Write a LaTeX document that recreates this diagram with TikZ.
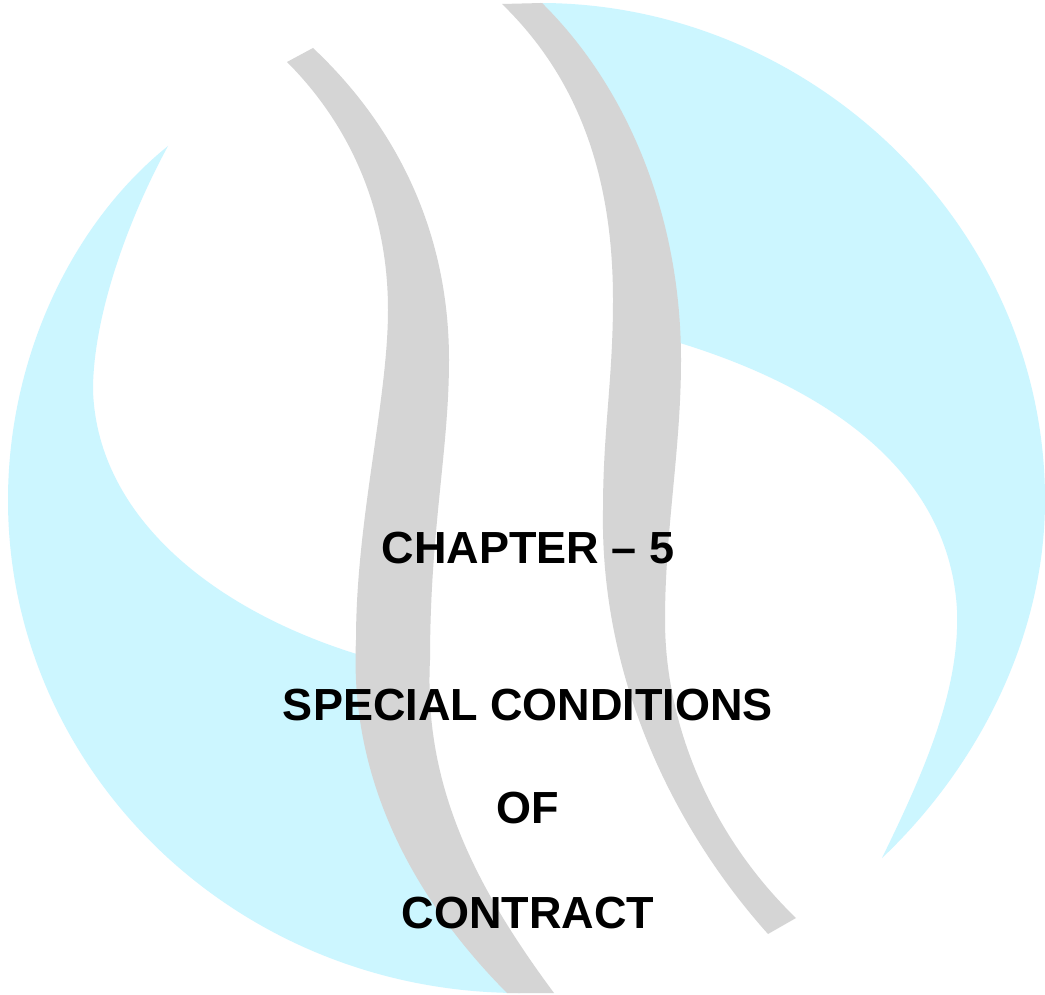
\documentclass[tikz,border=0pt]{standalone}
\usepackage{fontspec}
\setmainfont{Liberation Sans}
\definecolor{cy}{RGB}{204,246,255}
\definecolor{gr}{RGB}{213,213,213}
\begin{document}
\begin{tikzpicture}[x=1pt,y=-1pt,
 titletext/.style={font=\bfseries\fontsize{45}{50}\selectfont,anchor=base,inner sep=0pt,text=black},
 cyanpart/.style={fill=cy},
 band/.style={fill=gr}]
\useasboundingbox (0,0) rectangle (1045,995);
\fill[white] (0,0) rectangle (1045,995);
% upper right cyan
\path[cyanpart] (540,3) .. controls (810,3) and (1045,225) .. (1045,500)
 .. controls (1045,640) and (975,770) .. (882,858)
 .. controls (925,770) and (960,690) .. (957,610)
 .. controls (950,480) and (840,390) .. (670,340)
 -- (620,150) -- cycle;
% lower left cyan
\path[cyanpart] (168,146) .. controls (125,225) and (93,320) .. (93,390)
 .. controls (97,520) and (220,615) .. (370,658)
 -- (420,800) -- (520,993)
 .. controls (235,993) and (8,770) .. (8,500)
 .. controls (8,360) and (70,225) .. (168,146) -- cycle;
% gray bands
\path[band] (287,62) -- (313,48)
 .. controls (395,125) and (449,230) .. (449,360)
 .. controls (449,450) and (430,530) .. (430,660)
 .. controls (424,780) and (470,880) .. (554,993)
 -- (507,993)
 .. controls (400,885) and (350,765) .. (356,640)
 .. controls (356,520) and (388,400) .. (388,310)
 .. controls (388,210) and (350,125) .. (287,62) -- cycle;
\path[band] (502,4) -- (542,3)
 .. controls (630,90) and (681,220) .. (681,360)
 .. controls (681,450) and (665,530) .. (665,620)
 .. controls (665,730) and (715,840) .. (796,918)
 -- (768,934)
 .. controls (675,830) and (600,680) .. (603,510)
 .. controls (603,430) and (613,380) .. (613,300)
 .. controls (613,170) and (575,75) .. (502,4) -- cycle;
\node[titletext] (a) at (528,563) {CHAPTER – 5};
\node[titletext] (b) at (528,720) {SPECIAL CONDITIONS};
\node[titletext] (c) at (528,823) {OF};
\node[titletext] (d) at (528,928) {CONTRACT};
\end{tikzpicture}
\end{document}
